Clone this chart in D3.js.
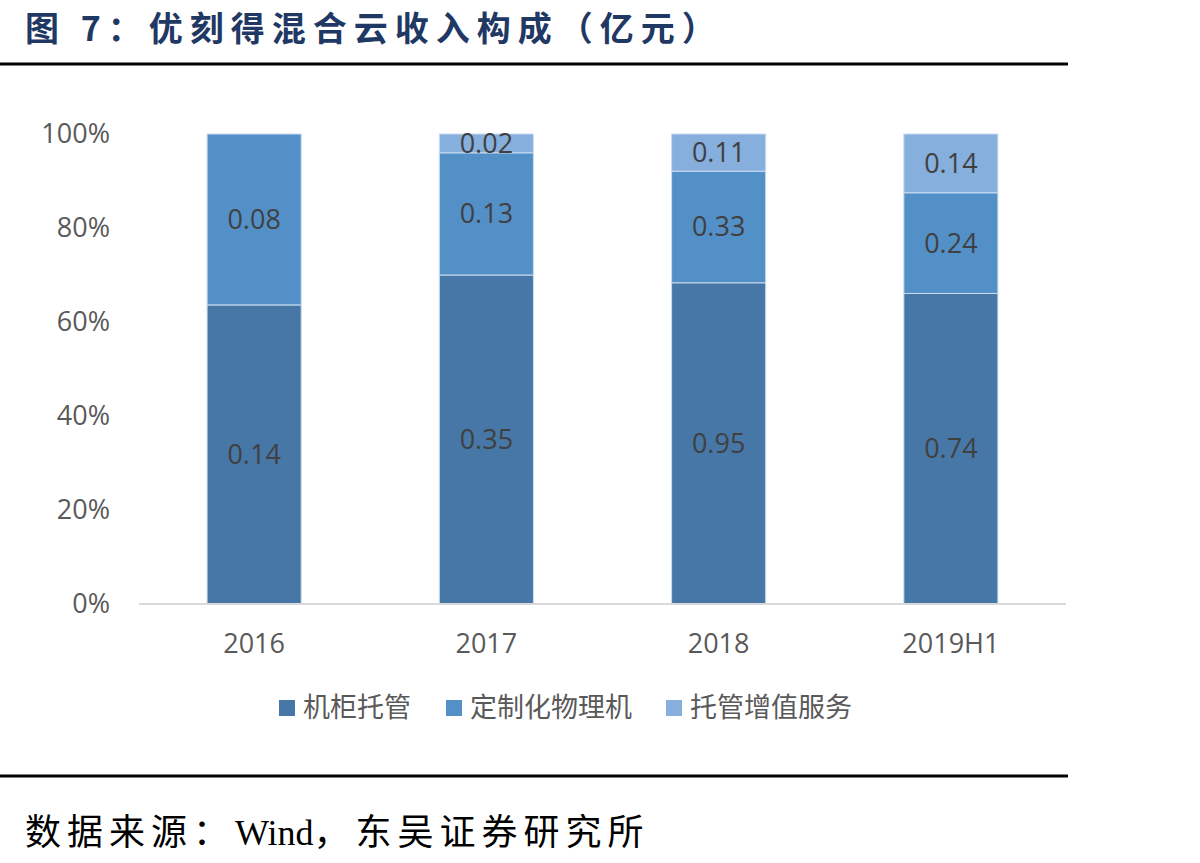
<!DOCTYPE html>
<html>
<head>
<meta charset="utf-8">
<script src="https://cdn.jsdelivr.net/npm/d3@7/dist/d3.min.js"></script>
<style>
  body { margin: 0; background: #fff; }
  svg { display: block; }
</style>
</head>
<body>
<svg id="chart" width="1200" height="863"></svg>
<script>
// 数据
const categories = ['2016', '2017', '2018', '2019H1'];
const seriesNames = ['机柜托管', '定制化物理机', '托管增值服务'];
const cabinet = [0.14, 0.35, 0.95, 0.74];
const physical = [0.08, 0.13, 0.33, 0.24];
const valueAdded = [0, 0.02, 0.11, 0.14];
const yTicks = [0, 0.2, 0.4, 0.6, 0.8, 1];

const colors = ['#4677a7', '#5390c8', '#86afdd'];
const svg = d3.select('#chart');
const cnFont = '"Open Sans", "Noto Sans CJK SC", sans-serif';

// 标题
svg.append('text')
  .attr('x', 25).attr('y', 41)
  .attr('font-family', '"Noto Sans CJK SC", serif')
  .attr('font-weight', 'bold')
  .attr('font-size', 34)
  .attr('letter-spacing', 7)
  .attr('fill', '#1f3864')
  .text('图 7：优刻得混合云收入构成（亿元）');

svg.append('line').attr('x1', 0).attr('x2', 1068).attr('y1', 64).attr('y2', 64)
  .attr('stroke', '#000').attr('stroke-width', 3);
svg.append('line').attr('x1', 0).attr('x2', 1068).attr('y1', 776).attr('y2', 776)
  .attr('stroke', '#000').attr('stroke-width', 3);

// 比例尺
const x = d3.scaleBand().domain(categories).range([138, 1067]).paddingInner(0.595).paddingOuter(0.2975);
const y = d3.scaleLinear().domain([0, 1]).range([604, 134]);

const rows = categories.map((c, i) => {
  const total = cabinet[i] + physical[i] + valueAdded[i];
  return { cat: c, s0: cabinet[i] / total, s1: physical[i] / total, s2: valueAdded[i] / total,
    v0: cabinet[i], v1: physical[i], v2: valueAdded[i] };
});
const stack = d3.stack().keys(['s0', 's1', 's2'])(rows);

// y轴刻度
svg.append('g')
  .selectAll('text')
  .data(yTicks)
  .join('text')
  .attr('x', 110)
  .attr('y', d => y(d))
  .attr('dy', '0.35em')
  .attr('text-anchor', 'end')
  .attr('font-family', cnFont)
  .attr('font-size', 27)
  .attr('fill', '#595959')
  .text(d => d3.format('.0%')(d));

// 柱子
const layer = svg.append('g')
  .selectAll('g')
  .data(stack)
  .join('g')
  .attr('fill', (d, i) => colors[i]);

layer.selectAll('rect')
  .data(d => d.filter(p => p[1] - p[0] > 0))
  .join('rect')
  .attr('x', d => x(d.data.cat))
  .attr('width', x.bandwidth())
  .attr('y', d => y(d[1]))
  .attr('height', d => y(d[0]) - y(d[1]))
  .attr('stroke', '#c9dcef')
  .attr('stroke-width', 1);

// 数据标签
stack.forEach((s, k) => {
  svg.append('g')
    .selectAll('text')
    .data(s.filter(p => p[1] - p[0] > 0))
    .join('text')
    .attr('x', d => x(d.data.cat) + x.bandwidth() / 2)
    .attr('y', d => y((d[0] + d[1]) / 2))
    .attr('dy', '0.35em')
    .attr('text-anchor', 'middle')
    .attr('font-family', cnFont)
    .attr('font-size', 27)
    .attr('fill', '#404040')
    .text(d => d3.format('.2f')(d.data['v' + k]));
});

// x轴
svg.append('line').attr('x1', 139).attr('x2', 1066).attr('y1', 604).attr('y2', 604)
  .attr('stroke', '#d9d9d9').attr('stroke-width', 2);

svg.append('g')
  .selectAll('text')
  .data(categories)
  .join('text')
  .attr('x', d => x(d) + x.bandwidth() / 2)
  .attr('y', 653)
  .attr('text-anchor', 'middle')
  .attr('font-family', cnFont)
  .attr('font-size', 27)
  .attr('fill', '#595959')
  .text(d => d);

// 图例
const legendX = [279, 446, 666];
const legend = svg.append('g')
  .selectAll('g')
  .data(seriesNames)
  .join('g')
  .attr('transform', (d, i) => `translate(${legendX[i]},708)`);
legend.append('rect')
  .attr('x', 0).attr('y', -8).attr('width', 16).attr('height', 16)
  .attr('fill', (d, i) => colors[i]);
legend.append('text')
  .attr('x', 24).attr('y', 0).attr('dy', '0.35em')
  .attr('font-family', cnFont)
  .attr('font-size', 27)
  .attr('fill', '#595959')
  .text(d => d);

// 数据来源
const src = svg.append('text')
  .attr('x', 25).attr('y', 845)
  .attr('font-family', '"Liberation Serif", "Noto Sans CJK SC", serif')
  .attr('font-size', 36)
  .attr('fill', '#000');
src.append('tspan').attr('letter-spacing', 6).text('数据来源：');
src.append('tspan').attr('letter-spacing', 0).text('Wind');
src.append('tspan').attr('letter-spacing', 6).text('，东吴证券研究所');
</script>
</body>
</html>
